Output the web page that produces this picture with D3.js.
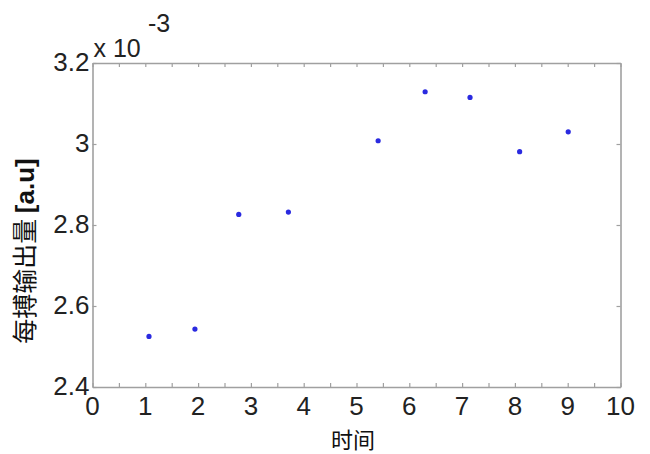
<!DOCTYPE html>
<html><head><meta charset="utf-8">
<script src="https://cdn.jsdelivr.net/npm/d3@7"></script>
<style>body{margin:0;background:#fff}</style>
</head><body>
<script>
const timeVals = [1.07, 1.94, 2.77, 3.71, 5.41, 6.30, 7.15, 8.09, 9.01];
const outputVals = [2.525, 2.543, 2.826, 2.832, 3.008, 3.129, 3.115, 2.981, 3.030]; // x 10^-3
const xTickLabels = [0,1,2,3,4,5,6,7,8,9,10];
const yTickLabels = [2.4, 2.6, 2.8, 3, 3.2];
const xLabel = "时间";
const yLabel = "每搏输出量 [a.u]";

const W = 650, H = 454;
const L = 92.5, R = 620.5, T = 63, B = 387;
const svg = d3.select("body").append("svg").attr("width", W).attr("height", H);
const x = d3.scaleLinear().domain([0, 10]).range([L, R]);
const y = d3.scaleLinear().domain([2.4, 3.2]).range([B, T]);
const axisColor = "#a0a0a0";
const font = "Liberation Sans, Arial, sans-serif";

const minorX = d3.range(0, 10.01, 0.5);
const gb = svg.append("g").attr("transform", `translate(0,${B})`)
  .call(d3.axisBottom(x).tickValues(minorX).tickSizeInner(-4).tickSizeOuter(0).tickFormat(""));
const gt = svg.append("g").attr("transform", `translate(0,${T})`)
  .call(d3.axisTop(x).tickValues(minorX).tickSizeInner(-4).tickSizeOuter(0).tickFormat(""));
const gl = svg.append("g").attr("transform", `translate(${L},0)`)
  .call(d3.axisLeft(y).tickValues(yTickLabels).tickSizeInner(-4).tickSizeOuter(0).tickFormat(""));
const gr = svg.append("g").attr("transform", `translate(${R},0)`)
  .call(d3.axisRight(y).tickValues(yTickLabels).tickSizeInner(-4).tickSizeOuter(0).tickFormat(""));
[gb, gt, gl, gr].forEach(g => {
  g.selectAll("path").attr("stroke", axisColor).attr("stroke-width", 1.6);
  g.selectAll("line").attr("stroke", axisColor).attr("stroke-width", 1.2);
});

svg.append("g").selectAll("text").data(xTickLabels).join("text")
  .attr("x", d => x(d)).attr("y", B + 28)
  .attr("text-anchor", "middle").attr("font-family", font).attr("font-size", 26)
  .attr("fill", "#222").text(d => d);
svg.append("g").selectAll("text").data(yTickLabels).join("text")
  .attr("x", L - 3).attr("y", d => y(d) + 8)
  .attr("text-anchor", "end").attr("font-family", font).attr("font-size", 26)
  .attr("fill", "#222").text(d => d);

svg.append("text").attr("x", L + 1).attr("y", 57).attr("font-family", font)
  .attr("font-size", 25).attr("fill", "#222").text("x 10");
svg.append("text").attr("x", 148).attr("y", 32).attr("font-family", font)
  .attr("font-size", 25).attr("fill", "#222").text("-3");

svg.append("text").attr("x", 353).attr("y", 448).attr("text-anchor", "middle")
  .attr("font-family", "Noto Sans CJK SC, sans-serif").attr("font-size", 22).attr("fill", "#111").text(xLabel);
const yl = svg.append("text").attr("transform", `translate(34,${251}) rotate(-90)`)
  .attr("text-anchor", "middle").attr("font-family", "Noto Sans CJK SC, sans-serif")
  .attr("font-size", 25).attr("fill", "#111");
const parts = yLabel.split(" ");
yl.append("tspan").text(parts[0] + " ");
yl.append("tspan").attr("font-weight", "bold").attr("font-family", font).attr("font-size", 26).text(parts[1]);

svg.append("g").selectAll("circle").data(timeVals).join("circle")
  .attr("cx", (d) => x(d)).attr("cy", (d, i) => y(outputVals[i])).attr("r", 2.6)
  .attr("fill", "#2a2ae0");
</script>
</body></html>
